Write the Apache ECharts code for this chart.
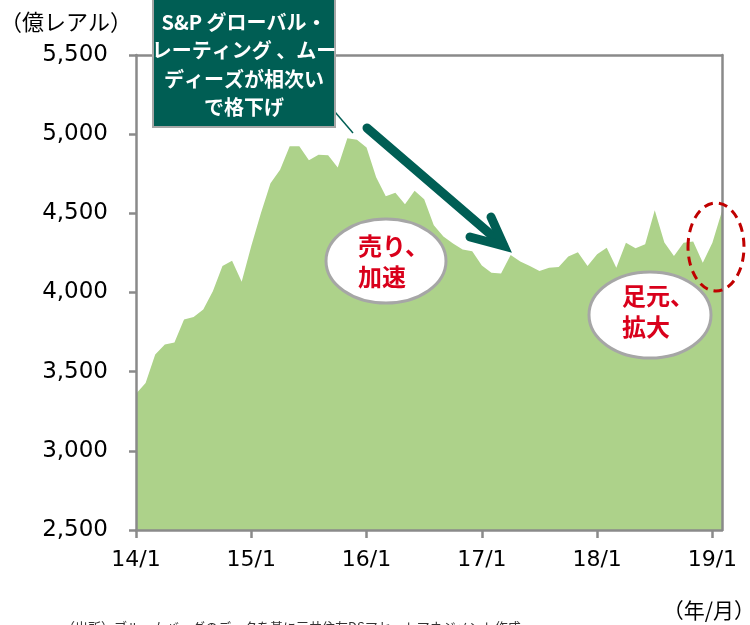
<!DOCTYPE html>
<html>
<head>
<meta charset="utf-8">
<script src="https://cdn.jsdelivr.net/npm/echarts@6/dist/echarts.min.js"></script>
<style>
  html, body { margin: 0; padding: 0; background: #fff; }
  #chart { width: 750px; height: 625px; }
</style>
</head>
<body>
<div id="chart"></div>
<script>
// monthly categories 2014/1 - 2019/2
const months = [
  '14/1', '14/2', '14/3', '14/4', '14/5', '14/6', '14/7', '14/8', '14/9', '14/10', '14/11', '14/12',
  '15/1', '15/2', '15/3', '15/4', '15/5', '15/6', '15/7', '15/8', '15/9', '15/10', '15/11', '15/12',
  '16/1', '16/2', '16/3', '16/4', '16/5', '16/6', '16/7', '16/8', '16/9', '16/10', '16/11', '16/12',
  '17/1', '17/2', '17/3', '17/4', '17/5', '17/6', '17/7', '17/8', '17/9', '17/10', '17/11', '17/12',
  '18/1', '18/2', '18/3', '18/4', '18/5', '18/6', '18/7', '18/8', '18/9', '18/10', '18/11', '18/12',
  '19/1', '19/2',
];
// 億レアル
const values = [
  3361, 3428, 3608, 3671, 3685, 3829, 3846, 3892, 4008, 4167, 4200, 4068,
  4293, 4500, 4690, 4775, 4924, 4924, 4835, 4870, 4867, 4789, 4975, 4964,
  4916, 4728, 4608, 4630, 4557, 4642, 4589, 4424, 4354, 4310, 4272, 4260,
  4171, 4124, 4120, 4237, 4196, 4168, 4136, 4156, 4161, 4228, 4255, 4167,
  4241, 4283, 4157, 4315, 4280, 4304, 4519, 4316, 4230, 4315, 4322, 4188,
  4315, 4515,
];
const yMin = 2500;
const yMax = 5500;
const yStep = 500;

const axisGray = '#8a8a8a';
const teal = '#005e54';
const red = '#d9001b';
const numFont = '"DejaVu Sans", Verdana, sans-serif';
const jpFont = '"Noto Sans CJK JP", sans-serif';

const chart = echarts.init(document.getElementById('chart'));

const option = {
  animation: false,
  grid: {
    left: 136,
    right: 28,
    top: 55,
    bottom: 95,
  },
  xAxis: [
    {
      type: 'category',
      data: months,
      boundaryGap: false,
      z: 10,
      axisLine: { lineStyle: { color: axisGray, width: 2.5 } },
      axisTick: {
        show: true,
        length: 8,
        interval: (idx) => idx % 12 === 0,
        lineStyle: { color: axisGray, width: 2.5 },
      },
      axisLabel: {
        interval: (idx) => idx % 12 === 0,
        margin: 19,
        color: '#000',
        fontSize: 22,
        fontFamily: numFont,
      },
      splitLine: { show: false },
    },
    {
      type: 'category',
      data: months,
      position: 'top',
      boundaryGap: false,
      z: 10,
      axisLine: { lineStyle: { color: axisGray, width: 2.5 } },
      axisTick: { show: false },
      axisLabel: { show: false },
    },
  ],
  yAxis: [
    {
      type: 'value',
      min: yMin,
      max: yMax,
      interval: yStep,
      z: 10,
      axisLine: { show: true, lineStyle: { color: axisGray, width: 2.5 } },
      axisTick: { show: true, length: 7, lineStyle: { color: axisGray, width: 2.5 } },
      axisLabel: {
        margin: 28,
        color: '#000',
        fontSize: 23,
        fontFamily: numFont,
        formatter: (v) => v.toLocaleString('en-US'),
      },
      splitLine: { show: false },
    },
    {
      type: 'value',
      position: 'right',
      min: yMin,
      max: yMax,
      interval: yStep,
      z: 10,
      axisLine: { show: true, lineStyle: { color: axisGray, width: 2.5 } },
      axisTick: { show: false },
      axisLabel: { show: false },
      splitLine: { show: false },
    },
  ],
  series: [
    {
      type: 'line',
      data: values,
      symbol: 'none',
      lineStyle: { width: 0 },
      itemStyle: { color: '#add28a' },
      areaStyle: { color: '#add28a', opacity: 1, origin: 'start' },
    },
  ],
  graphic: [
    {
      type: 'text',
      z: 100,
      style: {
        text: '（億レアル）', x: 0, y: 22, fill: '#000',
        fontSize: 22, fontFamily: jpFont,
        textAlign: 'left', textVerticalAlign: 'middle', align: 'left', verticalAlign: 'middle',
      },
    },
    {
      type: 'text',
      z: 100,
      style: {
        text: '（年/月）', x: 755, y: 610, fill: '#000',
        fontSize: 21, fontFamily: jpFont,
        textAlign: 'right', textVerticalAlign: 'middle', align: 'right', verticalAlign: 'middle',
      },
    },
    {
      type: 'text',
      z: 100,
      style: {
        text: '（出所）ブルームバーグのデータを基に三井住友DSアセットマネジメント作成',
        x: 62, y: 621, fill: '#333',
        fontSize: 13, fontFamily: jpFont,
        textAlign: 'left', textVerticalAlign: 'top', align: 'left', verticalAlign: 'top',
      },
    },
    // callout box
    {
      type: 'line',
      z: 100,
      shape: { x1: 335, y1: 112, x2: 353, y2: 133 },
      style: { stroke: teal, lineWidth: 1.5 },
    },
    {
      type: 'rect',
      z: 101,
      shape: { x: 153, y: -2, width: 182, height: 129 },
      style: { fill: teal, stroke: '#a6a6a6', lineWidth: 2 },
    },
    {
      type: 'text',
      z: 102,
      style: {
        text: 'S&P グローバル・\nレーティング 、ムー\nディーズが相次い\nで格下げ',
        x: 244, y: 8, fill: '#fff',
        fontSize: 20, fontWeight: 'bold', fontFamily: jpFont, lineHeight: 28.5,
        textAlign: 'center', textVerticalAlign: 'top', align: 'center', verticalAlign: 'top',
      },
    },
    // big arrow
    {
      type: 'polyline',
      z: 100,
      shape: { points: [[367, 128], [503, 245]] },
      style: { stroke: teal, lineWidth: 9, lineCap: 'round', fill: null },
    },
    {
      type: 'polyline',
      z: 100,
      shape: { points: [[491, 217], [504, 246], [470, 237]] },
      style: { stroke: teal, lineWidth: 9, lineCap: 'round', lineJoin: 'miter', fill: null },
    },
    // bubbles
    {
      type: 'ellipse',
      z: 100,
      shape: { cx: 386, cy: 261, rx: 60, ry: 42 },
      style: { fill: '#fff', stroke: '#a6a6a6', lineWidth: 3 },
    },
    {
      type: 'text',
      z: 101,
      style: {
        text: '売り、\n加速', x: 358, y: 261, fill: red,
        fontSize: 24, fontWeight: 'bold', fontFamily: jpFont, lineHeight: 31,
        textAlign: 'left', textVerticalAlign: 'middle', align: 'left', verticalAlign: 'middle',
      },
    },
    {
      type: 'ellipse',
      z: 100,
      shape: { cx: 650, cy: 315, rx: 61, ry: 43 },
      style: { fill: '#fff', stroke: '#a6a6a6', lineWidth: 3 },
    },
    {
      type: 'text',
      z: 101,
      style: {
        text: '足元、\n拡大', x: 622, y: 311, fill: red,
        fontSize: 24, fontWeight: 'bold', fontFamily: jpFont, lineHeight: 31,
        textAlign: 'left', textVerticalAlign: 'middle', align: 'left', verticalAlign: 'middle',
      },
    },
    {
      type: 'ellipse',
      z: 100,
      shape: { cx: 716, cy: 247, rx: 28, ry: 44 },
      style: { fill: null, stroke: '#c00000', lineWidth: 3, lineDash: [9, 6] },
    },
  ],
};

chart.setOption(option);
</script>
</body>
</html>
